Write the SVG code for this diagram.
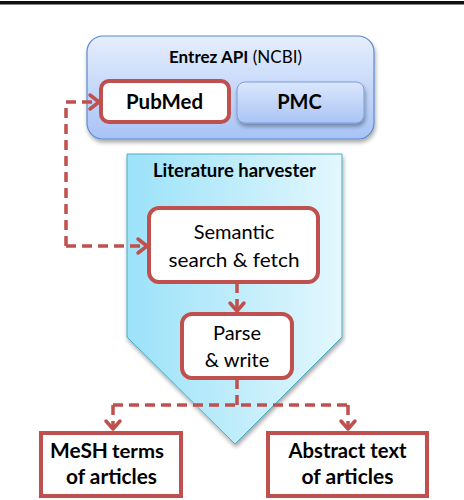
<svg xmlns="http://www.w3.org/2000/svg" width="464" height="500" viewBox="0 0 464 500">
<defs>
<style>
.t{font-family:Lato,"Open Sans","Liberation Sans",sans-serif;fill:#000;text-anchor:middle}
.b{font-weight:bold}
.red{fill:#fff;stroke:#C0504D;stroke-width:4}
.dash{fill:none;stroke:#C0504D;stroke-width:3.5;stroke-dasharray:10 6}
.head{fill:none;stroke:#C0504D;stroke-width:3.5;stroke-linecap:round;stroke-linejoin:round}
</style>
<linearGradient id="gBlue" x1="0" y1="0" x2="0" y2="1">
<stop offset="0" stop-color="#E6EEFD"/>
<stop offset="1" stop-color="#A7C3F6"/>
</linearGradient>
<linearGradient id="gPmc" x1="0" y1="0" x2="0" y2="1">
<stop offset="0" stop-color="#DCE7FC"/>
<stop offset="1" stop-color="#A9C4F5"/>
</linearGradient>
<linearGradient id="gCyan" x1="0" y1="0" x2="1" y2="0">
<stop offset="0" stop-color="#9BE2F9"/>
<stop offset="1" stop-color="#E3F7FD"/>
</linearGradient>
<filter id="sh" x="-10%" y="-10%" width="125%" height="125%">
<feGaussianBlur in="SourceAlpha" stdDeviation="2"/>
<feOffset dx="1" dy="3"/>
<feComponentTransfer><feFuncA type="linear" slope="0.35"/></feComponentTransfer>
<feMerge><feMergeNode/><feMergeNode in="SourceGraphic"/></feMerge>
</filter>
</defs>
<rect x="0" y="0" width="464" height="500" fill="#fff"/>
<rect x="0" y="1" width="464" height="3.5" fill="#111"/>

<g id="entrez">
<rect x="87" y="36" width="287" height="103" rx="16" fill="url(#gBlue)" stroke="#5B8BD0" stroke-width="1.2" filter="url(#sh)"/>
<text class="t" x="235.5" y="63" font-size="17" textLength="133" lengthAdjust="spacingAndGlyphs"><tspan class="b">Entrez API</tspan> (NCBI)</text>
</g>
<g id="pubmed">
<rect x="101" y="81" width="128" height="41" rx="8" class="red"/>
<text class="t b" x="164.5" y="109" font-size="20" textLength="77" lengthAdjust="spacingAndGlyphs">PubMed</text>
</g>
<g id="pmc">
<rect x="237" y="82" width="127" height="41" rx="8" fill="url(#gPmc)" stroke="#7A9FD8" stroke-width="1" filter="url(#sh)"/>
<text class="t b" x="299.5" y="109" font-size="20">PMC</text>
</g>

<g id="harvester">
<path d="M127 154 H342 V337 L235 444 L127 337 Z" fill="url(#gCyan)" stroke="#4BACC6" stroke-width="1" filter="url(#sh)"/>
<text class="t b" x="234.5" y="177" font-size="18.5" textLength="163" lengthAdjust="spacingAndGlyphs">Literature harvester</text>
</g>
<g id="semantic">
<rect x="149" y="208" width="169" height="74" rx="10" class="red"/>
<text class="t" x="234" y="239" font-size="20">Semantic</text>
<text class="t" x="234" y="267" font-size="20" textLength="131" lengthAdjust="spacingAndGlyphs">search &amp; fetch</text>
</g>
<g id="parse">
<rect x="182" y="314" width="110" height="64" rx="10" class="red"/>
<text class="t" x="237" y="340" font-size="20">Parse</text>
<text class="t" x="237" y="367" font-size="20">&amp; write</text>
</g>
<g id="mesh">
<rect x="41" y="433" width="140" height="63" class="red"/>
<text class="t b" x="50" y="458" font-size="21" text-anchor="start" style="text-anchor:start" textLength="58" lengthAdjust="spacingAndGlyphs">MeSH</text>
<text class="t b" x="112" y="458" font-size="19" style="text-anchor:start" textLength="52" lengthAdjust="spacingAndGlyphs">terms</text>
<text class="t b" x="111.5" y="484" font-size="20" textLength="91" lengthAdjust="spacingAndGlyphs">of articles</text>
</g>
<g id="abstract">
<rect x="268" y="433" width="159" height="63" class="red"/>
<text class="t b" x="347.5" y="458" font-size="20" textLength="118" lengthAdjust="spacingAndGlyphs">Abstract text</text>
<text class="t b" x="347.5" y="484" font-size="20" textLength="92" lengthAdjust="spacingAndGlyphs">of articles</text>
</g>

<g id="connectors">
<path class="dash" d="M66 246 V102 H97"/>
<path class="head" d="M90 95 L99 102 L90 109"/>
<path class="dash" d="M66 246 H145"/>
<path class="head" d="M138 239 L147 246 L138 253"/>
<path class="dash" d="M237 283 V309" stroke-dasharray="6 4"/>
<path class="head" d="M230 303 L237 311 L244 303"/>
<path class="dash" d="M237 379 V405 M113 405 H348 M113 405 V428 M348 405 V428"/>
<path class="head" d="M106 421 L113 429 L120 421"/>
<path class="head" d="M341 421 L348 429 L355 421"/>
</g>
</svg>
